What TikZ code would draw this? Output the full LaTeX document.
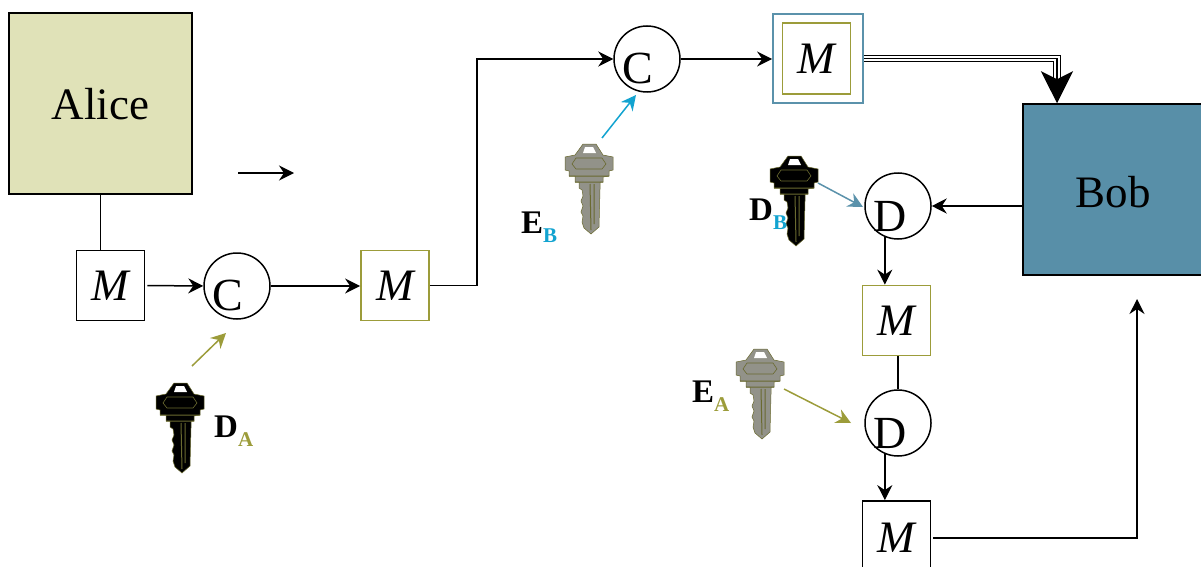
\documentclass[tikz,border=0pt]{standalone}
\usepackage{fontspec}
\setmainfont{Liberation Serif}
\usetikzlibrary{arrows.meta}
\definecolor{alicefill}{HTML}{E0E2B8}
\definecolor{bobfill}{HTML}{588FA8}
\definecolor{olivec}{HTML}{9C9C3A}
\definecolor{steelc}{HTML}{5B92AB}
\definecolor{cyanc}{HTML}{12A3D0}
\definecolor{keygray}{HTML}{929289}
\definecolor{keydark}{HTML}{6A6A30}
\tikzset{
  pics/keypic/.style 2 args={code={
    \fill[#1, draw=#2, line width=.5pt] (-6,0) -- (7,0) -- (14,11) -- (24,13) -- (24,26) -- (20,27)
      -- (20,32) -- (14,33) -- (14,38) -- (11,38) -- (11,45) -- (10,83) -- (2,90) -- (-5,84)
      -- (-7,78) -- (-6,72) -- (-8,68) -- (-6,62) -- (-8,57) -- (-6,52) -- (-7,46) -- (-10,44)
      -- (-10,38) -- (-14,38) -- (-14,32) -- (-20,32) -- (-20,27) -- (-24,26) -- (-24,13) -- (-14,11) -- cycle;
    \fill[white] (-4,3) -- (4,3) -- (7,9) -- (-6,9) -- cycle;
    \draw[#2, line width=.6pt] (-17,20) -- (-13,14) -- (13,14) -- (17,20) -- (13,25) -- (-13,25) -- cycle;
    \draw[#2, line width=1pt] (-20,32) -- (20,32) (-14,38) -- (14,38) (1,40) -- (2,86) (5,40) -- (5,80);
  }},
  box/.style={draw, line width=1.8pt, minimum width=68pt, minimum height=70pt, inner sep=0pt, font=\fontsize{45}{50}\selectfont\itshape},
  crypt/.style={draw, circle, line width=1.5pt, minimum size=66pt, inner sep=0pt},
  party/.style={draw, line width=1.5pt, inner sep=0pt, font=\fontsize{45}{50}\selectfont},
  letter/.style={inner sep=0pt, font=\fontsize{46}{50}\selectfont},
  keylabel/.style={inner sep=0pt, anchor=base west, font=\fontsize{33}{36}\selectfont\bfseries},
  flow/.style={draw, line width=1.5pt, -{Stealth[length=15pt,width=15pt,inset=5pt]}},
  plain/.style={draw, line width=1.5pt},
  keyarrow/.style={line width=1.5pt, -{Stealth[length=15pt,width=15pt,inset=5pt]}},
}
\newcommand{\subs}[2]{{\color{#1}\fontsize{21}{24}\selectfont\raisebox{-9pt}{#2}}}
\begin{document}
\begin{tikzpicture}[x=1pt, y=-1pt]
  \useasboundingbox (0,0) rectangle (1201,567);
  % parties
  \node[party, fill=alicefill, minimum width=183pt, minimum height=181pt, text height=33pt] (alice) at (100.5,103.5) {Alice};
  \node[party, fill=bobfill, minimum width=180pt, minimum height=171pt, text height=36pt] (bob) at (1113,189.5) {Bob};
  % messages
  \node[box] (m1) at (110.5,285.5) {M};
  \node[box, draw=olivec] (m2) at (395,285.5) {M};
  \node[box, draw=steelc, minimum width=90pt, minimum height=89pt] (m3outer) at (818,58.5) {};
  \node[box, draw=olivec, minimum height=71pt] (m3) at (816.5,58.5) {M};
  \node[box, draw=olivec] (m4) at (896.5,320.5) {M};
  \node[box, minimum height=74pt] (m5) at (896.5,538) {M};
  % circles
  \node[crypt] (c1) at (237,286) {};
  \node[crypt] (c2) at (647,59) {};
  \node[crypt] (d1) at (898,206) {};
  \node[crypt] (d2) at (898,423) {};
  \node[letter] (c1text) at (228,295) {C};
  \node[letter] (c2text) at (638,68) {C};
  \node[letter] (d1text) at (890,216) {D};
  \node[letter] (d2text) at (890,433) {D};
  % keys
  \pic at (180,383) {keypic={black}{keydark}};
  \pic at (589,144) {keypic={keygray}{keydark}};
  \pic at (794,156) {keypic={black}{keydark}};
  \pic at (760,349) {keypic={keygray}{keydark}};
  \node[keylabel] (da) at (214,437) {D\subs{olivec}{A}};
  \node[keylabel] (eb) at (521,233) {E\subs{cyanc}{B}};
  \node[keylabel] (db) at (749,220) {D\subs{cyanc}{B}};
  \node[keylabel] (ea) at (692,402) {E\subs{olivec}{A}};
  % free ends
  \coordinate (lonea) at (238,173);
  \coordinate (loneb) at (294,173);
  \coordinate (dafrom) at (192,366);
  \coordinate (dato) at (226,333);
  \coordinate (ebfrom) at (602,138);
  \coordinate (ebto) at (636,95);
  \coordinate (dbfrom) at (818,183);
  \coordinate (dbto) at (863,207);
  \coordinate (eafrom) at (784,389);
  \coordinate (eato) at (851,423);
  \coordinate (bobin) at (1137,299);
  \coordinate (corner) at (1057,58.5);
  % connectors
  \path[flow] (lonea) -- (loneb);
  \path[plain] (alice.south) -- (alice.south |- m1.north);
  \path[flow, shorten <=2pt] (m1.east) -- (c1.west);
  \path[flow] (c1.east) -- (c1 -| m2.west);
  \path[flow] (m2.east) -- (477,285.5) -- (477,59) -- (c2.west);
  \path[flow] (c2.east) -- (c2 -| m3outer.west);
  \draw[keyarrow, olivec] (dafrom) -- (dato);
  \draw[keyarrow, cyanc] (ebfrom) -- (ebto);
  \draw[keyarrow, steelc] (dbfrom) -- (dbto);
  \draw[keyarrow, olivec] (eafrom) -- (eato);
  \path[flow] (bob.west |- d1) -- (d1.east);
  \path[flow] (d1.247) -- (d1.247 |- m4.north);
  \path[plain] (898,356) -- (d2.north);
  \path[flow] (d2.247) -- (d2.247 |- m5.north);
  \path[flow, shorten <=2pt] (m5.east) -- (1137,538) -- (bobin);
  % triple line into bob
  \draw[line width=1pt, double, double distance=5.5pt] (m3outer.east) -- (corner) -- (1057,80);
  \draw[line width=1.5pt, -{Stealth[length=32pt,width=32pt,inset=8pt]}] (m3outer.east) -- (corner) -- (corner |- bob.north);
\end{tikzpicture}
\end{document}
